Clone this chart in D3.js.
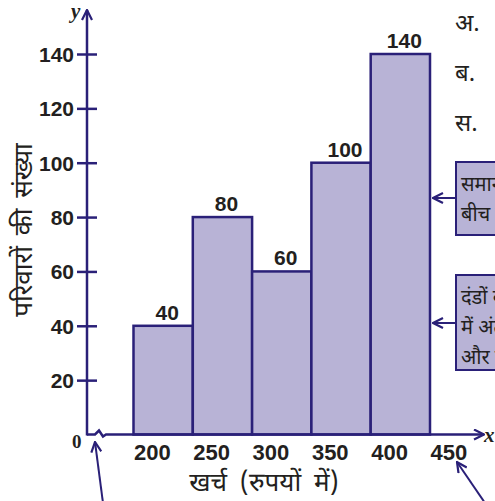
<!DOCTYPE html>
<html>
<head>
<meta charset="utf-8">
<script src="https://cdn.jsdelivr.net/npm/d3@7"></script>
<style>
  html, body { margin: 0; padding: 0; background: #fff; }
  svg { display: block; }
  .num { font-family: "Liberation Sans", Arial, sans-serif; font-weight: bold; fill: #231f20; }
  .hin { font-family: "Noto Sans Devanagari", "Lohit Devanagari", "Mangal", "Noto Sans", sans-serif; fill: #231f20; }
</style>
</head>
<body>
<svg id="chart" width="495" height="501"></svg>
<script>
// Monthly expenditure classes (₹) and number of families in each
const binStarts = [200, 250, 300, 350, 400];
const binEnds   = [250, 300, 350, 400, 450];
const families  = [40, 80, 60, 100, 140];
const xTicks = [200, 250, 300, 350, 400, 450];
const yTicks = [20, 40, 60, 80, 100, 120, 140];

const xTitle = "खर्च (रुपयों में)";
const yTitle = "परिवारों की संख्या";
const sideLetters = ["अ.", "ब.", "स."];
const noteA = ["समान चौड़ाई वाले आयत", "बीच में कोई रिक्त स्थान नहीं"];
const noteB = ["दंडों की ऊँचाई", "में अंतर बारंबारता", "और वर्गों पर निर्भर"];

const ink = "#2a2078";
const fill = "#b8b3d6";

const svg = d3.select("#chart");

const x = d3.scaleLinear().domain([200, 450]).range([133.5, 430]);
const y = d3.scaleLinear().domain([0, 140]).range([434.5, 54]);
const axisX = 87;
const base = y(0);

// arrow marker
const defs = svg.append("defs");
defs.append("marker")
  .attr("id", "head").attr("viewBox", "0 0 12 12")
  .attr("refX", 11).attr("refY", 6)
  .attr("markerWidth", 12).attr("markerHeight", 12)
  .attr("markerUnits", "userSpaceOnUse")
  .attr("orient", "auto")
  .append("path").attr("d", "M1,1 L11,6 L1,11")
  .attr("fill", "none").attr("stroke", ink).attr("stroke-width", 2.2);

// histogram bars
const bins = binStarts.map((s, i) => ({ x0: s, x1: binEnds[i], v: families[i] }));
svg.append("g").selectAll("rect").data(bins).join("rect")
  .attr("x", d => x(d.x0))
  .attr("y", d => y(d.v))
  .attr("width", d => x(d.x1) - x(d.x0))
  .attr("height", d => base - y(d.v))
  .attr("fill", fill)
  .attr("stroke", ink)
  .attr("stroke-width", 2.5);

// value labels on top of bars
svg.append("g").selectAll("text").data(bins).join("text")
  .attr("class", "num")
  .attr("x", d => (x(d.x0) + x(d.x1)) / 2 + 4)
  .attr("y", d => y(d.v) - 6)
  .attr("text-anchor", "middle")
  .attr("font-size", 21)
  .text(d => d.v);

// x axis with break near the origin
svg.append("path")
  .attr("d", `M${axisX},${base} L95,${base} L99,${base - 4} L103,${base + 2} L106,${base} L484,${base}`)
  .attr("fill", "none").attr("stroke", ink).attr("stroke-width", 2.5)
  .attr("marker-end", "url(#head)");

// y axis
svg.append("line")
  .attr("x1", axisX).attr("y1", base + 1)
  .attr("x2", axisX).attr("y2", 10)
  .attr("stroke", ink).attr("stroke-width", 2.5)
  .attr("marker-end", "url(#head)");

// y ticks and labels
const yAxis = svg.append("g")
  .attr("transform", `translate(${axisX},0)`)
  .call(d3.axisLeft(y).tickValues(yTicks).tickSize(10).tickPadding(3).tickFormat(d3.format("d")));
yAxis.select(".domain").remove();
yAxis.selectAll(".tick line").attr("x1", 10).attr("stroke", ink).attr("stroke-width", 2.5);
yAxis.selectAll(".tick text").attr("class", "num").attr("font-size", 21).attr("dy", "0.36em");

// x tick labels
const xAxis = svg.append("g")
  .attr("transform", `translate(0,${base})`)
  .call(d3.axisBottom(x).tickValues(xTicks).tickSize(0).tickPadding(0).tickFormat(d3.format("d")));
xAxis.select(".domain").remove();
xAxis.selectAll(".tick text")
  .attr("class", "num").attr("font-size", 22)
  .attr("text-anchor", "start").attr("dx", 0).attr("y", 25).attr("dy", 0);

// origin and axis letters
svg.append("text").attr("x", 72).attr("y", 448)
  .attr("font-family", "Liberation Serif, serif").attr("font-weight", "bold")
  .attr("font-size", 19).attr("fill", "#231f20").text("0");
svg.append("text").attr("x", 71).attr("y", 18)
  .attr("font-family", "Liberation Serif, serif").attr("font-style", "italic").attr("font-weight", "bold")
  .attr("font-size", 21).attr("fill", "#231f20").text("y");
svg.append("text").attr("x", 484).attr("y", 442)
  .attr("font-family", "Liberation Serif, serif").attr("font-style", "italic").attr("font-weight", "bold")
  .attr("font-size", 21).attr("fill", "#231f20").text("x");

// axis titles
svg.append("text").attr("class", "hin")
  .attr("x", 264).attr("y", 491).attr("text-anchor", "middle")
  .attr("font-size", 26).attr("word-spacing", 6).text(xTitle);
svg.append("text").attr("class", "hin")
  .attr("transform", "translate(32,230) rotate(-90)")
  .attr("text-anchor", "middle")
  .attr("font-size", 26).attr("word-spacing", 4).text(yTitle);

// side items
svg.append("g").selectAll("text").data(sideLetters).join("text")
  .attr("class", "hin").attr("x", 455)
  .attr("y", (d, i) => 31 + i * 50)
  .attr("font-size", 24).text(d => d);

// annotation boxes with arrows pointing at the bars
function note(top, h, lines, arrowY) {
  svg.append("rect").attr("x", 456).attr("y", top).attr("width", 60).attr("height", h)
    .attr("fill", fill).attr("stroke", ink).attr("stroke-width", 2);
  svg.append("line").attr("x1", 456).attr("y1", arrowY).attr("x2", 433).attr("y2", arrowY)
    .attr("stroke", ink).attr("stroke-width", 2).attr("marker-end", "url(#head)");
  svg.append("g").selectAll("text").data(lines).join("text")
    .attr("class", "hin").attr("x", 461)
    .attr("y", (d, i) => top + 29 + i * 30)
    .attr("font-size", 20).text(d => d);
}
note(162, 73, noteA, 198);
note(275, 95, noteB, 323);

// pointer arrows at the bottom
svg.append("line").attr("x1", 103).attr("y1", 503).attr("x2", 95).attr("y2", 442)
  .attr("stroke", ink).attr("stroke-width", 2).attr("marker-end", "url(#head)");
svg.append("line").attr("x1", 485).attr("y1", 503).attr("x2", 457).attr("y2", 462)
  .attr("stroke", ink).attr("stroke-width", 2).attr("marker-end", "url(#head)");
</script>
</body>
</html>
